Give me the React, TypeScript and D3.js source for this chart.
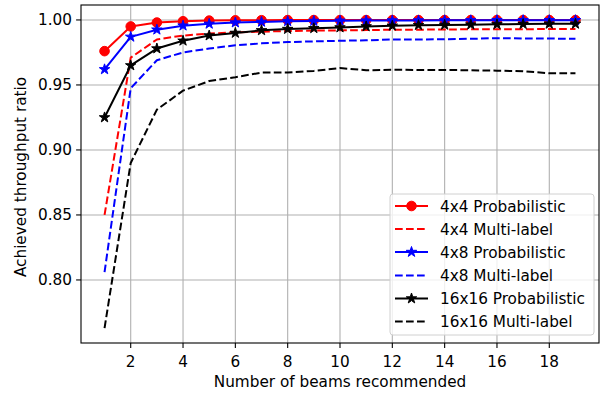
import React from "react";
import * as d3 from "d3";

const beams = [1, 2, 3, 4, 5, 6, 7, 8, 9, 10, 11, 12, 13, 14, 15, 16, 17, 18, 19];
const prob4x4 = [0.976, 0.995, 0.998, 0.999, 0.9995, 0.9997, 0.9998, 0.9999, 0.9999, 0.9999, 0.9999, 0.9999, 0.9999, 0.9999, 0.9999, 0.9999, 0.9999, 0.9999, 0.9999];
const ml4x4 = [0.85, 0.971, 0.985, 0.988, 0.9895, 0.9905, 0.991, 0.9915, 0.9918, 0.992, 0.9922, 0.9925, 0.9925, 0.9927, 0.9928, 0.9928, 0.9929, 0.993, 0.993];
const prob4x8 = [0.962, 0.987, 0.9925, 0.9956, 0.997, 0.998, 0.9985, 0.999, 0.9992, 0.9994, 0.9995, 0.9996, 0.9996, 0.9997, 0.9997, 0.9998, 0.9998, 0.9998, 0.9998];
const ml4x8 = [0.806, 0.9475, 0.969, 0.975, 0.978, 0.9805, 0.982, 0.983, 0.9835, 0.984, 0.9843, 0.985, 0.985, 0.9852, 0.9855, 0.986, 0.9858, 0.9857, 0.9855];
const prob16 = [0.925, 0.965, 0.978, 0.984, 0.988, 0.990, 0.992, 0.993, 0.9936, 0.9942, 0.995, 0.9955, 0.996, 0.9962, 0.9964, 0.9966, 0.9968, 0.997, 0.997];
const ml16 = [0.763, 0.890, 0.931, 0.9456, 0.953, 0.956, 0.9595, 0.9595, 0.9608, 0.963, 0.9613, 0.9617, 0.9615, 0.9615, 0.9613, 0.961, 0.9605, 0.959, 0.959];

const xTicks = [2, 4, 6, 8, 10, 12, 14, 16, 18];
const yTicks = [0.8, 0.85, 0.9, 0.95, 1.0];

const seriesNames = ["4x4 Probabilistic", "4x4 Multi-label", "4x8 Probabilistic", "4x8 Multi-label", "16x16 Probabilistic", "16x16 Multi-label"];
const seriesColors = ["#ff0000", "#ff0000", "#0000ff", "#0000ff", "#000000", "#000000"];
const seriesMarkers = ["circle", "none", "star", "none", "star", "none"];
const seriesDashed = [false, true, false, true, false, true];
const seriesValues = [prob4x4, ml4x4, prob4x8, ml4x8, prob16, ml16];

const W = 608, H = 393;
const L = 81, R = 599, T = 5, B = 343;
const FONT = "DejaVu Sans, sans-serif";
const FS = 15.28;

export default function App() {
  const x = d3.scaleLinear().domain([0.1, 19.9]).range([L, R]);
  const y = d3.scaleLinear().domain([0.7515, 1.0115]).range([B, T]);
  const line = d3.line<number>().x((_, i) => x(beams[i])).y((d) => y(d));
  const star = d3.symbol().type(d3.symbolStar).size(34)();

  const marker = (m: string, color: string, cx: number, cy: number, key: any) => {
    if (m === "circle") return <circle key={key} cx={cx} cy={cy} r={4.8} fill={color} stroke={color} strokeWidth={1} />;
    if (m === "star") return <path key={key} d={star!} transform={`translate(${cx},${cy})`} fill={color} stroke={color} strokeWidth={1} strokeLinejoin="miter" />;
    return null;
  };

  const legX = 390, legY = 194, legW = 204, legH = 141;
  const rowY = [206, 229, 252, 275.5, 298.5, 321.5];

  return (
    <svg width={W} height={H} style={{ position: "absolute", left: 0, top: 0, background: "#fff" }} fontFamily={FONT}>
      <rect x={0} y={0} width={W} height={H} fill="#fff" />
      <defs>
        <clipPath id="plot"><rect x={L} y={T} width={R - L} height={B - T} /></clipPath>
      </defs>
      {xTicks.map((t) => (
        <line key={"gx" + t} x1={x(t)} x2={x(t)} y1={T} y2={B} stroke="#b0b0b0" strokeWidth={1.1} />
      ))}
      {yTicks.map((t) => (
        <line key={"gy" + t} x1={L} x2={R} y1={y(t)} y2={y(t)} stroke="#b0b0b0" strokeWidth={1.1} />
      ))}
      <g clipPath="url(#plot)">
        {seriesValues.map((vals, si) => (
          <g key={"s" + si}>
            <path d={line(vals)!} fill="none" stroke={seriesColors[si]} strokeWidth={2}
              strokeDasharray={seriesDashed[si] ? "7.7,3.3" : undefined} strokeLinejoin="round" />
            {vals.map((v, i) => marker(seriesMarkers[si], seriesColors[si], x(beams[i]), y(v), i))}
          </g>
        ))}
      </g>
      <rect x={L} y={T} width={R - L} height={B - T} fill="none" stroke="#000" strokeWidth={1.1} />
      {xTicks.map((t) => (
        <g key={"tx" + t}>
          <line x1={x(t)} x2={x(t)} y1={B} y2={B + 4.9} stroke="#000" strokeWidth={1.1} />
          <text x={x(t)} y={B + 23.5} fontSize={FS} textAnchor="middle" fill="#000">{t}</text>
        </g>
      ))}
      {yTicks.map((t) => (
        <g key={"ty" + t}>
          <line x1={L - 4.9} x2={L} y1={y(t)} y2={y(t)} stroke="#000" strokeWidth={1.1} />
          <text x={L - 9} y={y(t) + 5.5} fontSize={FS} textAnchor="end" fill="#000">{t.toFixed(2)}</text>
        </g>
      ))}
      <text x={(L + R) / 2} y={386.5} fontSize={FS} textAnchor="middle" fill="#000">Number of beams recommended</text>
      <text transform={`translate(26,${(T + B) / 2 + 3}) rotate(-90)`} fontSize={FS} textAnchor="middle" fill="#000">Achieved throughput ratio</text>

      <rect x={legX} y={legY} width={legW} height={legH} rx={3} fill="#fff" fillOpacity={0.8} stroke="#d0d0d0" strokeWidth={1} />
      {seriesNames.map((n, i) => (
        <g key={"l" + i}>
          <line x1={395} x2={428} y1={rowY[i]} y2={rowY[i]} stroke={seriesColors[i]} strokeWidth={2}
            strokeDasharray={seriesDashed[i] ? "7.7,3.3" : undefined} />
          {seriesMarkers[i] !== "none" && marker(seriesMarkers[i], seriesColors[i], 411.5, rowY[i], "m")}
          <text x={440} y={rowY[i] + 5.5} fontSize={FS} fill="#000">{n}</text>
        </g>
      ))}
    </svg>
  );
}
